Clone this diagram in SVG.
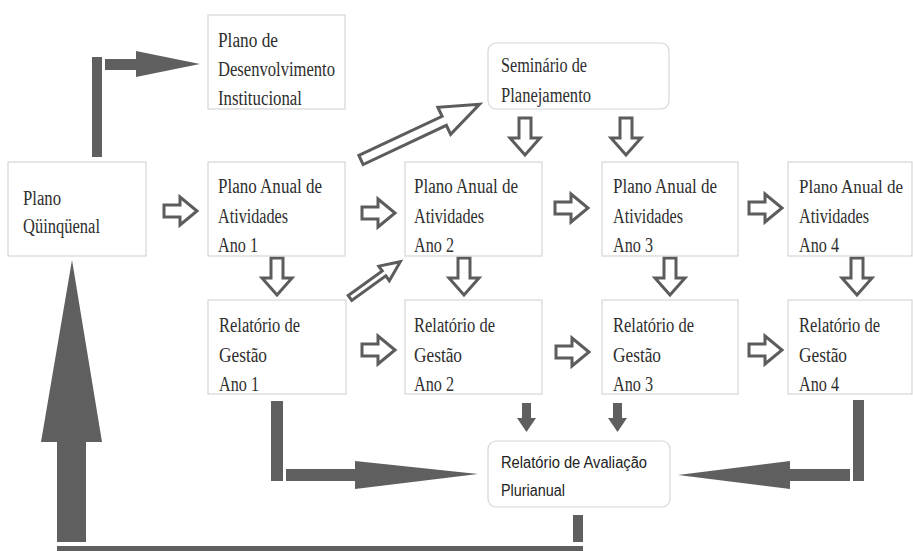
<svg xmlns="http://www.w3.org/2000/svg" xmlns:xlink="http://www.w3.org/1999/xlink" width="913" height="551" viewBox="0 0 913 551">
<style>
.box{fill:#fff;stroke:#d6d6d6;stroke-width:1.2}
.t{font-family:"Liberation Serif","DejaVu Serif",serif;font-size:20px;fill:#2e2e2e}
.s{font-family:"Liberation Sans","DejaVu Sans",sans-serif;font-size:16px;fill:#222}
.hol{fill:#fff;stroke:#5c5c5c;stroke-width:3;stroke-linejoin:miter}
.sol{fill:#5f5f5f;stroke:none}
</style>
<defs>
<path id="ra" d="M-16,-6 H0 V-14 L17,0 L0,14 V6 H-16 Z"/>
<path id="da" d="M-6,-19 H6 V1 H15 L0,18 L-15,1 H-6 Z"/>
</defs>
<rect width="913" height="551" fill="#fff"/>

<g id="connectors">
  <rect class="sol" x="92" y="57" width="10" height="100"/>
  <rect class="sol" x="105" y="59" width="33" height="11"/>
  <polygon class="sol" points="136,51 200,64 136,77"/>
  <rect class="sol" x="57" y="442" width="29" height="100"/>
  <polygon class="sol" points="41,442 72,260 102,442"/>
  <rect class="sol" x="57" y="546" width="526" height="6"/>
  <rect class="sol" x="573" y="515" width="10" height="27"/>
  <rect class="sol" x="271" y="401" width="12" height="80"/>
  <rect class="sol" x="286" y="469" width="71" height="12"/>
  <polygon class="sol" points="355,461 478,474 355,489"/>
  <rect class="sol" x="853" y="400" width="11" height="81"/>
  <rect class="sol" x="788" y="469" width="62" height="12"/>
  <polygon class="sol" points="790,461 678,475 790,489"/>
  <rect class="sol" x="522" y="403" width="9" height="16"/>
  <polygon class="sol" points="517,418 536,418 526.5,432"/>
  <rect class="sol" x="613" y="403" width="9" height="16"/>
  <polygon class="sol" points="608,418 627,418 617.5,432"/>
  <use xlink:href="#ra" class="hol" transform="translate(180,211)"/>
  <use xlink:href="#ra" class="hol" transform="translate(378,213)"/>
  <use xlink:href="#ra" class="hol" transform="translate(571,208)"/>
  <use xlink:href="#ra" class="hol" transform="translate(765,208)"/>
  <use xlink:href="#ra" class="hol" transform="translate(378,350)"/>
  <use xlink:href="#ra" class="hol" transform="translate(572,352)"/>
  <use xlink:href="#ra" class="hol" transform="translate(765,350)"/>
  <use xlink:href="#da" class="hol" transform="translate(277,277)"/>
  <use xlink:href="#da" class="hol" transform="translate(464,277)"/>
  <use xlink:href="#da" class="hol" transform="translate(670,277)"/>
  <use xlink:href="#da" class="hol" transform="translate(857,277)"/>
  <use xlink:href="#da" class="hol" transform="translate(525,137)"/>
  <use xlink:href="#da" class="hol" transform="translate(626,137)"/>
  <path class="hol" transform="translate(361,160) rotate(-25.2)" d="M0,-5 H92 V-15 L131,0 L92,15 V5 H0 Z"/>
  <path class="hol" stroke-width="2" transform="translate(350,298) rotate(-35.8)" d="M0,-3 H42 V-9 L62,0 L42,9 V3 H0 Z"/>
</g>

<g id="n-pdi">
  <rect class="box" x="208" y="15" width="137" height="94"/>
  <text class="t" x="218" y="47" textLength="60" lengthAdjust="spacingAndGlyphs">Plano de</text>
  <text class="t" x="218" y="76" textLength="117" lengthAdjust="spacingAndGlyphs">Desenvolvimento</text>
  <text class="t" x="218" y="105" textLength="84" lengthAdjust="spacingAndGlyphs">Institucional</text>
</g>
<g id="n-seminario">
  <rect class="box" x="488" y="43" width="181" height="66" rx="8"/>
  <text class="t" x="501" y="72" textLength="86" lengthAdjust="spacingAndGlyphs">Seminário de</text>
  <text class="t" x="501" y="102" textLength="90" lengthAdjust="spacingAndGlyphs">Planejamento</text>
</g>
<g id="n-quinq">
  <rect class="box" x="8" y="162" width="138" height="94"/>
  <text class="t" x="23" y="205" textLength="38" lengthAdjust="spacingAndGlyphs">Plano</text>
  <text class="t" x="23" y="233" textLength="77" lengthAdjust="spacingAndGlyphs">Qüinqüenal</text>
</g>
<g id="n-pa1">
  <rect class="box" x="208" y="162" width="137" height="94"/>
  <text class="t" x="218" y="193" textLength="104" lengthAdjust="spacingAndGlyphs">Plano Anual de</text>
  <text class="t" x="218" y="223" textLength="70" lengthAdjust="spacingAndGlyphs">Atividades</text>
  <text class="t" x="218" y="252" textLength="40" lengthAdjust="spacingAndGlyphs">Ano 1</text>
</g>
<g id="n-pa2">
  <rect class="box" x="405" y="162" width="137" height="94"/>
  <text class="t" x="414" y="193" textLength="104" lengthAdjust="spacingAndGlyphs">Plano Anual de</text>
  <text class="t" x="414" y="223" textLength="70" lengthAdjust="spacingAndGlyphs">Atividades</text>
  <text class="t" x="414" y="252" textLength="40" lengthAdjust="spacingAndGlyphs">Ano 2</text>
</g>
<g id="n-pa3">
  <rect class="box" x="602" y="162" width="136" height="94"/>
  <text class="t" x="613" y="193" textLength="104" lengthAdjust="spacingAndGlyphs">Plano Anual de</text>
  <text class="t" x="613" y="223" textLength="70" lengthAdjust="spacingAndGlyphs">Atividades</text>
  <text class="t" x="613" y="252" textLength="40" lengthAdjust="spacingAndGlyphs">Ano 3</text>
</g>
<g id="n-pa4">
  <rect class="box" x="788" y="162" width="124" height="94"/>
  <text class="t" x="799" y="193" font-size="18" style="font-size:18px" textLength="104" lengthAdjust="spacingAndGlyphs">Plano Anual de</text>
  <text class="t" x="799" y="223" textLength="70" lengthAdjust="spacingAndGlyphs">Atividades</text>
  <text class="t" x="799" y="252" textLength="40" lengthAdjust="spacingAndGlyphs">Ano 4</text>
</g>
<g id="n-rg1">
  <rect class="box" x="208" y="300" width="138" height="94"/>
  <text class="t" x="219" y="332" textLength="81" lengthAdjust="spacingAndGlyphs">Relatório de</text>
  <text class="t" x="219" y="362" textLength="48" lengthAdjust="spacingAndGlyphs">Gestão</text>
  <text class="t" x="219" y="391" textLength="40" lengthAdjust="spacingAndGlyphs">Ano 1</text>
</g>
<g id="n-rg2">
  <rect class="box" x="405" y="300" width="137" height="94"/>
  <text class="t" x="414" y="332" textLength="81" lengthAdjust="spacingAndGlyphs">Relatório de</text>
  <text class="t" x="414" y="362" textLength="48" lengthAdjust="spacingAndGlyphs">Gestão</text>
  <text class="t" x="414" y="391" textLength="40" lengthAdjust="spacingAndGlyphs">Ano 2</text>
</g>
<g id="n-rg3">
  <rect class="box" x="602" y="300" width="136" height="94"/>
  <text class="t" x="613" y="332" textLength="81" lengthAdjust="spacingAndGlyphs">Relatório de</text>
  <text class="t" x="613" y="362" textLength="48" lengthAdjust="spacingAndGlyphs">Gestão</text>
  <text class="t" x="613" y="391" textLength="40" lengthAdjust="spacingAndGlyphs">Ano 3</text>
</g>
<g id="n-rg4">
  <rect class="box" x="788" y="300" width="124" height="94"/>
  <text class="t" x="799" y="332" textLength="81" lengthAdjust="spacingAndGlyphs">Relatório de</text>
  <text class="t" x="799" y="362" textLength="48" lengthAdjust="spacingAndGlyphs">Gestão</text>
  <text class="t" x="799" y="391" textLength="40" lengthAdjust="spacingAndGlyphs">Ano 4</text>
</g>
<g id="n-rap">
  <rect class="box" x="488" y="441" width="182" height="66" rx="8"/>
  <text class="s" x="501" y="468" textLength="146" lengthAdjust="spacingAndGlyphs">Relatório de Avaliação</text>
  <text class="s" x="501" y="496" textLength="64" lengthAdjust="spacingAndGlyphs">Plurianual</text>
</g>
</svg>
